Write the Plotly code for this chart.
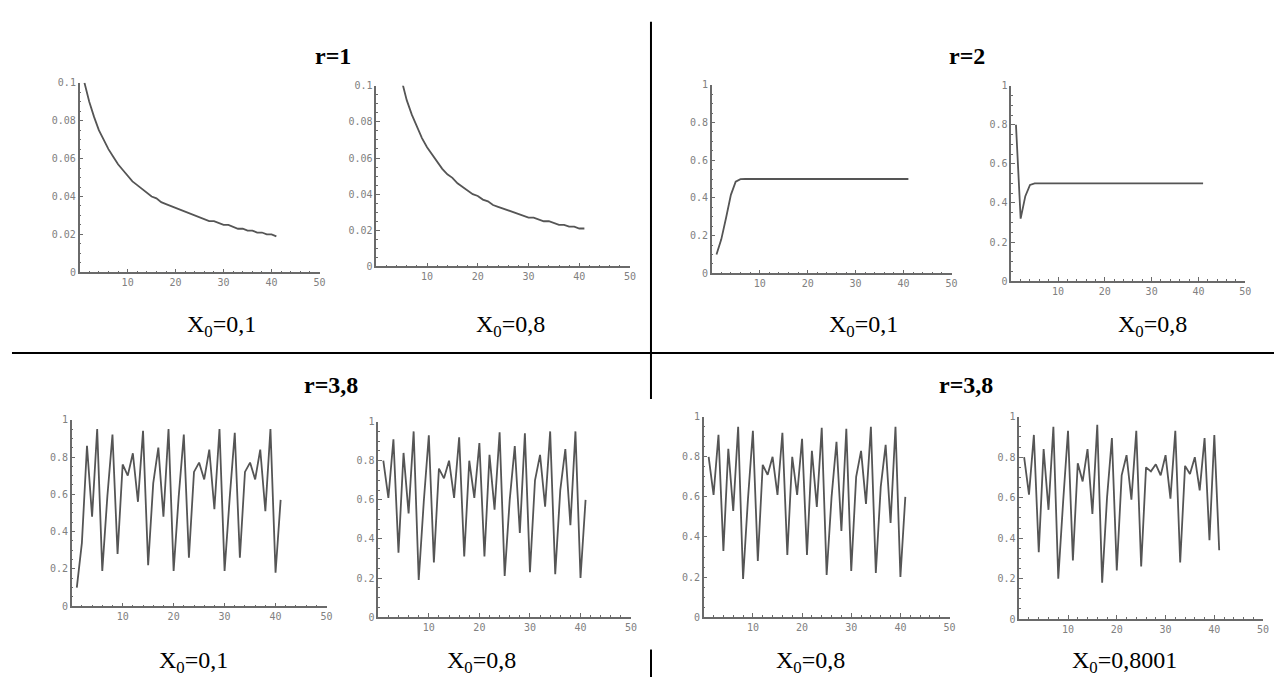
import plotly.graph_objects as go

# ---------------- data ----------------
steps = list(range(1, 42))

r1_x0_01 = [0.100, 0.090, 0.082, 0.075, 0.070, 0.065, 0.061, 0.057, 0.054, 0.051,
            0.048, 0.046, 0.044, 0.042, 0.040, 0.039, 0.037, 0.036, 0.035, 0.034,
            0.033, 0.032, 0.031, 0.030, 0.029, 0.028, 0.027, 0.027, 0.026, 0.025,
            0.025, 0.024, 0.023, 0.023, 0.022, 0.022, 0.021, 0.021, 0.020, 0.020,
            0.019]

r1_x0_08 = [0.800, 0.160, 0.134, 0.116, 0.103, 0.092, 0.084, 0.077, 0.071, 0.066,
            0.062, 0.058, 0.054, 0.051, 0.049, 0.046, 0.044, 0.042, 0.040, 0.039,
            0.037, 0.036, 0.034, 0.033, 0.032, 0.031, 0.030, 0.029, 0.028, 0.027,
            0.027, 0.026, 0.025, 0.025, 0.024, 0.023, 0.023, 0.022, 0.022, 0.021,
            0.021]

r2_x0_01 = [0.100, 0.180, 0.295, 0.416, 0.486, 0.4996, 0.500, 0.500, 0.500, 0.500,
            0.500, 0.500, 0.500, 0.500, 0.500, 0.500, 0.500, 0.500, 0.500, 0.500,
            0.500, 0.500, 0.500, 0.500, 0.500, 0.500, 0.500, 0.500, 0.500, 0.500,
            0.500, 0.500, 0.500, 0.500, 0.500, 0.500, 0.500, 0.500, 0.500, 0.500,
            0.500]

r2_x0_08 = [0.800, 0.320, 0.435, 0.492, 0.4999, 0.500, 0.500, 0.500, 0.500, 0.500,
            0.500, 0.500, 0.500, 0.500, 0.500, 0.500, 0.500, 0.500, 0.500, 0.500,
            0.500, 0.500, 0.500, 0.500, 0.500, 0.500, 0.500, 0.500, 0.500, 0.500,
            0.500, 0.500, 0.500, 0.500, 0.500, 0.500, 0.500, 0.500, 0.500, 0.500,
            0.500]

r38_x0_01 = [0.10, 0.34, 0.86, 0.48, 0.95, 0.19, 0.59, 0.92, 0.28, 0.76,
             0.70, 0.82, 0.56, 0.94, 0.22, 0.66, 0.85, 0.48, 0.95, 0.19,
             0.59, 0.92, 0.26, 0.72, 0.77, 0.68, 0.84, 0.52, 0.95, 0.19,
             0.58, 0.93, 0.26, 0.72, 0.77, 0.68, 0.84, 0.51, 0.95, 0.18,
             0.57]

r38_x0_08 = [0.80, 0.61, 0.91, 0.33, 0.84, 0.53, 0.95, 0.19, 0.59, 0.93,
             0.28, 0.76, 0.71, 0.80, 0.61, 0.92, 0.31, 0.80, 0.61, 0.89,
             0.31, 0.83, 0.55, 0.945, 0.21, 0.60, 0.875, 0.43, 0.94, 0.23,
             0.70, 0.83, 0.565, 0.95, 0.22, 0.65, 0.86, 0.47, 0.95, 0.20,
             0.60]

r38_x0_08_b = [0.80, 0.61, 0.91, 0.33, 0.84, 0.53, 0.95, 0.19, 0.59, 0.93,
               0.28, 0.76, 0.71, 0.80, 0.61, 0.92, 0.31, 0.80, 0.61, 0.89,
               0.31, 0.83, 0.55, 0.945, 0.21, 0.60, 0.875, 0.43, 0.94, 0.23,
               0.70, 0.83, 0.565, 0.95, 0.22, 0.65, 0.86, 0.47, 0.95, 0.20,
               0.60]

r38_x0_08001 = [0.80, 0.615, 0.91, 0.33, 0.84, 0.54, 0.95, 0.20, 0.58, 0.93,
                0.29, 0.77, 0.68, 0.84, 0.52, 0.96, 0.18, 0.60, 0.895, 0.24,
                0.71, 0.81, 0.59, 0.93, 0.26, 0.75, 0.73, 0.765, 0.71, 0.81,
                0.595, 0.93, 0.28, 0.757, 0.717, 0.80, 0.636, 0.895, 0.39, 0.91,
                0.34]

y_small_ticks = [0, 0.02, 0.04, 0.06, 0.08, 0.1]
y_small_labels = ["0", "0.02", "0.04", "0.06", "0.08", "0.1"]
y_unit_ticks = [0, 0.2, 0.4, 0.6, 0.8, 1]
y_unit_labels = ["0", "0.2", "0.4", "0.6", "0.8", "1"]
x_ticks = [10, 20, 30, 40, 50]
x_labels = ["10", "20", "30", "40", "50"]

panel_titles = ["r=1", "r=2", "r=3,8", "r=3,8"]
sub_labels = ["X<sub>0</sub>=0,1", "X<sub>0</sub>=0,8", "X<sub>0</sub>=0,1", "X<sub>0</sub>=0,8",
              "X<sub>0</sub>=0,1", "X<sub>0</sub>=0,8", "X<sub>0</sub>=0,8", "X<sub>0</sub>=0,8001"]

# ---------------- layout ----------------
W, H = 1282, 677

series = [r1_x0_01, r1_x0_08, r2_x0_01, r2_x0_08,
          r38_x0_01, r38_x0_08, r38_x0_08_b, r38_x0_08001]
small = [True, True, False, False, False, False, False, False]
# plot boxes in pixels: (left, right, top, bottom)
boxes = [(72, 313, 70, 263), (370, 625, 73, 257), (707, 948, 72, 264), (1008, 1243, 73, 272),
         (64, 320, 413, 603), (372, 626, 415, 614), (699, 946, 410, 614), (1016, 1261, 410, 616)]

fig = go.Figure()
layout = dict(width=W, height=H, autosize=False,
              margin=dict(l=0, r=0, t=0, b=0),
              paper_bgcolor="white", plot_bgcolor="white", showlegend=False)

tick_font = dict(family="DejaVu Sans Mono", size=10, color="#808080")
axis_col = "#6a6a6a"

for i, (ys, box, sm) in enumerate(zip(series, boxes, small)):
    k = i + 1
    sfx = "" if k == 1 else str(k)
    xa, ya = "x" + sfx, "y" + sfx
    fig.add_trace(go.Scatter(x=steps, y=ys, mode="lines",
                             line=dict(color="#555555", width=1.8),
                             xaxis=xa, yaxis=ya, hoverinfo="skip"))
    l, r, t, b = box
    layout["xaxis" + sfx] = dict(
        domain=[l / W, r / W], anchor=ya, range=[0, 50],
        tickvals=x_ticks, ticktext=x_labels, ticks="inside", ticklen=4,
        tickcolor=axis_col, tickwidth=1, showline=True, linecolor=axis_col,
        linewidth=1.5, showgrid=False, zeroline=False, tickfont=tick_font,
        minor=dict(dtick=2, ticks="inside", ticklen=2, tickcolor=axis_col, showgrid=False),
        fixedrange=True)
    layout["yaxis" + sfx] = dict(
        domain=[1 - b / H, 1 - t / H], anchor=xa,
        range=[0, 0.1] if sm else [0, 1],
        tickvals=y_small_ticks if sm else y_unit_ticks,
        ticktext=y_small_labels if sm else y_unit_labels,
        ticks="inside", ticklen=4, tickcolor=axis_col, tickwidth=1,
        showline=True, linecolor=axis_col, linewidth=1.5, showgrid=False,
        zeroline=False, tickfont=tick_font,
        minor=dict(dtick=0.005 if sm else 0.05, ticks="inside", ticklen=2,
                   tickcolor=axis_col, showgrid=False),
        fixedrange=True)

fig.update_layout(**layout)

# titles
title_pos = [(327, 43), (964, 43), (325, 378), (963, 378)]
for txt, (px, py) in zip(panel_titles, title_pos):
    fig.add_annotation(x=px / W, y=1 - py / H, xref="paper", yref="paper",
                       text="<b>" + txt + "</b>", showarrow=False,
                       font=dict(family="Liberation Serif", size=24, color="black"),
                       xanchor="center", yanchor="middle")

# X0 labels
label_pos = [(215, 318), (505, 318), (860, 318), (1150, 318),
             (186, 660), (476, 660), (806, 660), (1122, 660)]
for txt, (px, py) in zip(sub_labels, label_pos):
    fig.add_annotation(x=px / W, y=1 - py / H, xref="paper", yref="paper",
                       text=txt, showarrow=False,
                       font=dict(family="Liberation Serif", size=24, color="black"),
                       xanchor="center", yanchor="middle")

# divider lines
def pline(x0, y0, x1, y1, w=2):
    fig.add_shape(type="line", xref="paper", yref="paper",
                  x0=x0 / W, y0=1 - y0 / H, x1=x1 / W, y1=1 - y1 / H,
                  line=dict(color="black", width=w))

pline(646, 8, 646, 392)
pline(646, 647, 646, 677)
pline(4, 345, 1282, 345)

fig.write_html("out.html")
